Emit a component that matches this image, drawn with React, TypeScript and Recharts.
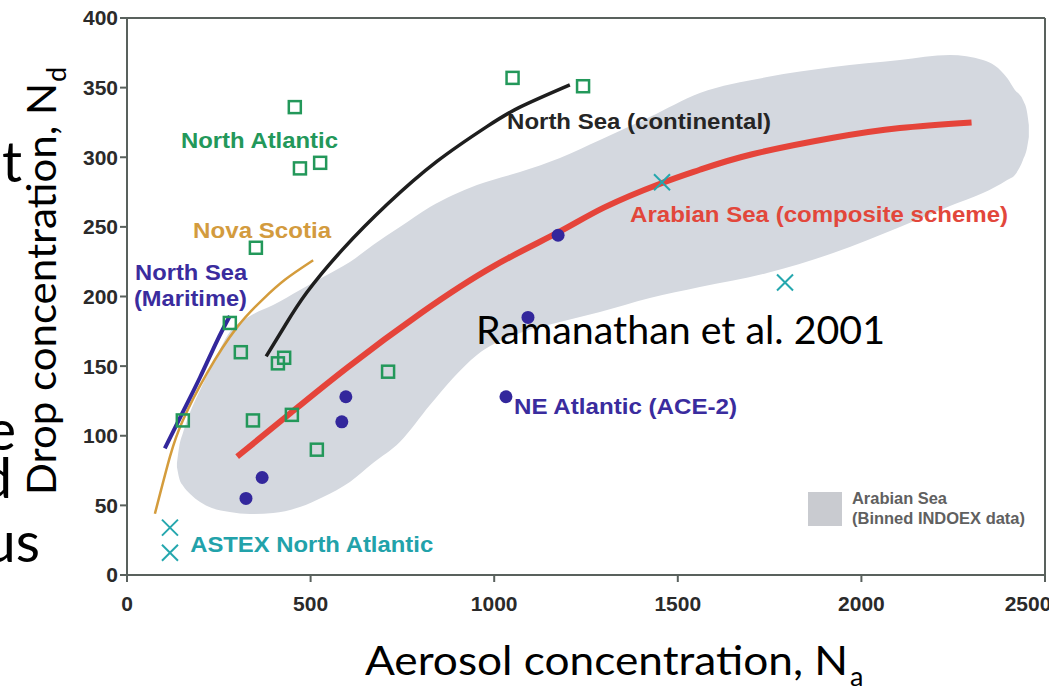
import React from "react";
import {
  Area,
  ComposedChart,
  Line,
  ReferenceLine,
  Scatter,
  XAxis,
  YAxis,
} from "recharts";

const X_TICKS = [0, 500, 1000, 1500, 2000, 2500];
const Y_TICKS = [0, 50, 100, 150, 200, 250, 300, 350, 400];

// Arabian Sea, binned INDOEX data (grey envelope): aerosol conc. with lower / upper drop conc.
const INDOEX_NA = [
  136, 142, 153, 172, 199, 231, 280, 335, 398, 471, 534, 607, 670, 743, 825,
  888, 953, 1070, 1179, 1288, 1424, 1560, 1743, 1923, 2105, 2241, 2331, 2397,
  2418, 2440, 2451, 2456,
];
const INDOEX_LOW = [
  77.6, 69.7, 63.9, 58.2, 52.4, 48.1, 45.2, 43.8, 44.5, 48.8, 56, 66.8, 80.4,
  95.5, 122, 141.5, 158, 173.8, 181.7, 188.9, 198.9, 206.8, 216.9, 231.2,
  249.9, 265, 274.3, 283.7, 287.3, 298, 306.6, 314.5,
];
const INDOEX_HIGH = [
  80.4, 91.9, 102.7, 117.1, 132.9, 150.1, 174.5, 186, 193.9, 204.7, 214, 224.8,
  237, 249.9, 264.3, 272.9, 280, 289.4, 299.5, 312.4, 328.9, 346.1, 357.6,
  364.8, 369.8, 373.4, 369.8, 356.9, 348.3, 341.1, 332.5, 323.2,
];

// Arabian Sea (composite scheme)
const ARABIAN_NA = [300, 444, 600, 800, 1000, 1174, 1300, 1452, 1560, 1700, 1923, 2105, 2300];
const ARABIAN_ND = [85, 116, 149, 188, 222, 246, 264, 281, 291, 302, 314, 321, 325];

// North Sea (continental)
const NS_CONT_NA = [379, 430, 490, 588, 708, 844, 980, 1070, 1206];
const NS_CONT_ND = [157, 179, 203, 234, 266, 297, 322, 336, 352];

// Nova Scotia
const NOVA_NA = [76, 117, 152, 218, 300, 370, 430, 507];
const NOVA_ND = [44, 85, 111, 145, 178, 198, 212, 226];

// North Sea (Maritime)
const NS_MAR_NA = [103, 152, 199, 245, 280];
const NS_MAR_ND = [91, 117, 142, 168, 186];

// North Atlantic (open squares)
const NATL_NA = [457, 471, 526, 351, 280, 152, 310, 411, 428, 343, 449, 517, 711, 1050, 1242];
const NATL_ND = [336, 292, 296, 235, 181, 111, 160, 152, 156, 111, 115, 90, 146, 357, 351];

// NE Atlantic (ACE-2) (filled dots)
const ACE2_NA = [368, 324, 596, 585, 1174, 1092, 1032];
const ACE2_ND = [70, 55, 128, 110, 244, 185, 128];

// ASTEX North Atlantic and others (crosses)
const ASTEX_NA = [117, 117, 1457, 1792];
const ASTEX_ND = [34, 16, 282, 210];

// text labels placed in data coordinates (left end of baseline)
const LABELS = [
  { text: "North Atlantic", na: 147, nd: 307, color: "#23985a", width: 157 },
  { text: "Nova Scotia", na: 180, nd: 242, color: "#d39b3e", width: 138 },
  { text: "North Sea", na: 22, nd: 212, color: "#3a2c9e", width: 112 },
  { text: "(Maritime)", na: 19, nd: 193, color: "#3a2c9e", width: 113 },
  { text: "North Sea (continental)", na: 1035, nd: 320, color: "#252525", width: 264 },
  { text: "Arabian Sea (composite scheme)", na: 1370, nd: 253.5, color: "#e2473b", width: 378 },
  { text: "NE Atlantic (ACE-2)", na: 1054, nd: 115.6, color: "#3a2c9e", width: 223 },
  { text: "ASTEX North Atlantic", na: 172, nd: 16.5, color: "#22a2aa", width: 243 },
];

const zip = (xs: number[], ys: number[]) => xs.map((x, i) => ({ x, y: ys[i] }));

const envelope = INDOEX_NA.map((x, i) => ({ x, range: [INDOEX_LOW[i], INDOEX_HIGH[i]] }));

const AXIS = "#59615d";
const BOLD = "'Liberation Sans', Arial, sans-serif";
const SLIDE = "Lato, 'Open Sans', sans-serif";

const squareShape = (p: any) => (
  <rect x={p.cx - 6} y={p.cy - 6} width={12} height={12} fill="none" stroke="#23985a" strokeWidth={2.5} />
);
const dotShape = (p: any) => <circle cx={p.cx} cy={p.cy} r={6.5} fill="#33279c" />;
const crossShape = (p: any) => (
  <path
    d={`M${p.cx - 8},${p.cy - 8}L${p.cx + 8},${p.cy + 8}M${p.cx - 8},${p.cy + 8}L${p.cx + 8},${p.cy - 8}`}
    stroke="#25a7ae"
    strokeWidth={2}
  />
);
const labelShape = (l: (typeof LABELS)[number]) => (p: any) => (
  <text
    x={p.cx}
    y={p.cy}
    fill={l.color}
    fontSize={22}
    fontWeight="bold"
    fontFamily={BOLD}
    textLength={l.width}
    lengthAdjust="spacingAndGlyphs"
  >
    {l.text}
  </text>
);

const tickStyle = { fill: "#2a2a2a", fontSize: 21, fontWeight: "bold", fontFamily: BOLD };

export default function App() {
  return (
    <div
      style={{
        position: "absolute",
        left: 0,
        top: 0,
        width: 1049,
        height: 686,
        overflow: "hidden",
        background: "#fff",
      }}
    >
      <ComposedChart
        width={1049}
        height={686}
        data={envelope}
        margin={{ top: 18, right: 4, bottom: 0, left: 0 }}
      >
        <XAxis
          type="number"
          dataKey="x"
          domain={[0, 2500]}
          ticks={X_TICKS}
          height={111}
          stroke={AXIS}
          strokeWidth={2}
          tickSize={7}
          tickMargin={14}
          tick={tickStyle}
        />
        <YAxis
          type="number"
          dataKey="y"
          domain={[0, 400]}
          ticks={Y_TICKS}
          width={127}
          stroke={AXIS}
          strokeWidth={2}
          tickSize={7}
          tickMargin={2}
          tick={tickStyle}
        />
        <ReferenceLine y={400} stroke={AXIS} strokeWidth={2} />
        <ReferenceLine x={2500} stroke={AXIS} strokeWidth={2} />
        <Area
          dataKey="range"
          type="monotone"
          fill="#d4d8df"
          fillOpacity={1}
          stroke="none"
          isAnimationActive={false}
        />
        <Line data={zip(NOVA_NA, NOVA_ND)} dataKey="y" type="natural" stroke="#d49c3c" strokeWidth={2.5} dot={false} activeDot={false} isAnimationActive={false} />
        <Line data={zip(NS_MAR_NA, NS_MAR_ND)} dataKey="y" type="natural" stroke="#33279c" strokeWidth={4} dot={false} activeDot={false} isAnimationActive={false} />
        <Line data={zip(NS_CONT_NA, NS_CONT_ND)} dataKey="y" type="natural" stroke="#1e1e1e" strokeWidth={3.5} dot={false} activeDot={false} isAnimationActive={false} />
        <Line data={zip(ARABIAN_NA, ARABIAN_ND)} dataKey="y" type="natural" stroke="#e5443a" strokeWidth={6} dot={false} activeDot={false} isAnimationActive={false} />
        <Scatter data={zip(NATL_NA, NATL_ND)} shape={squareShape} isAnimationActive={false} />
        <Scatter data={zip(ACE2_NA, ACE2_ND)} shape={dotShape} isAnimationActive={false} />
        <Scatter data={zip(ASTEX_NA, ASTEX_ND)} shape={crossShape} isAnimationActive={false} />
        {LABELS.map((l) => (
          <Scatter key={l.text} data={[{ x: l.na, y: l.nd }]} shape={labelShape(l)} isAnimationActive={false} />
        ))}
      </ComposedChart>

      {/* slide text around the figure */}
      <svg
        width={1049}
        height={686}
        style={{ position: "absolute", left: 0, top: 0, pointerEvents: "none" }}
      >
        <g fontFamily={SLIDE} fill="#000">
          <text x={22} y={182} fontSize={56} textAnchor="end">t</text>
          <text x={16} y={450} fontSize={56} textAnchor="end">e</text>
          <text x={12} y={498} fontSize={56} textAnchor="end">d</text>
          <text x={40} y={562} fontSize={56} textAnchor="end">us</text>

          <text transform="rotate(-90)" x={-495} y={56} fontSize={41} textLength={412} lengthAdjust="spacingAndGlyphs">
            Drop concentration, N
          </text>
          <text transform="rotate(-90)" x={-82} y={66} fontSize={27}>d</text>

          <text x={365} y={675} fontSize={41} textLength={483} lengthAdjust="spacingAndGlyphs">
            Aerosol concentration, N
          </text>
          <text x={850} y={686} fontSize={27}>a</text>

          <text x={476} y={344} fontSize={39} textLength={409} lengthAdjust="spacingAndGlyphs">
            Ramanathan et al. 2001
          </text>
        </g>
        <rect x={808} y={492} width={34} height={34} fill="#c9cbd0" />
        <g fontFamily={BOLD} fontWeight="bold" fontSize={16} fill="#606060">
          <text x={852} y={504} textLength={95} lengthAdjust="spacingAndGlyphs">Arabian Sea</text>
          <text x={852} y={524} textLength={173} lengthAdjust="spacingAndGlyphs">(Binned INDOEX data)</text>
        </g>
      </svg>
    </div>
  );
}
